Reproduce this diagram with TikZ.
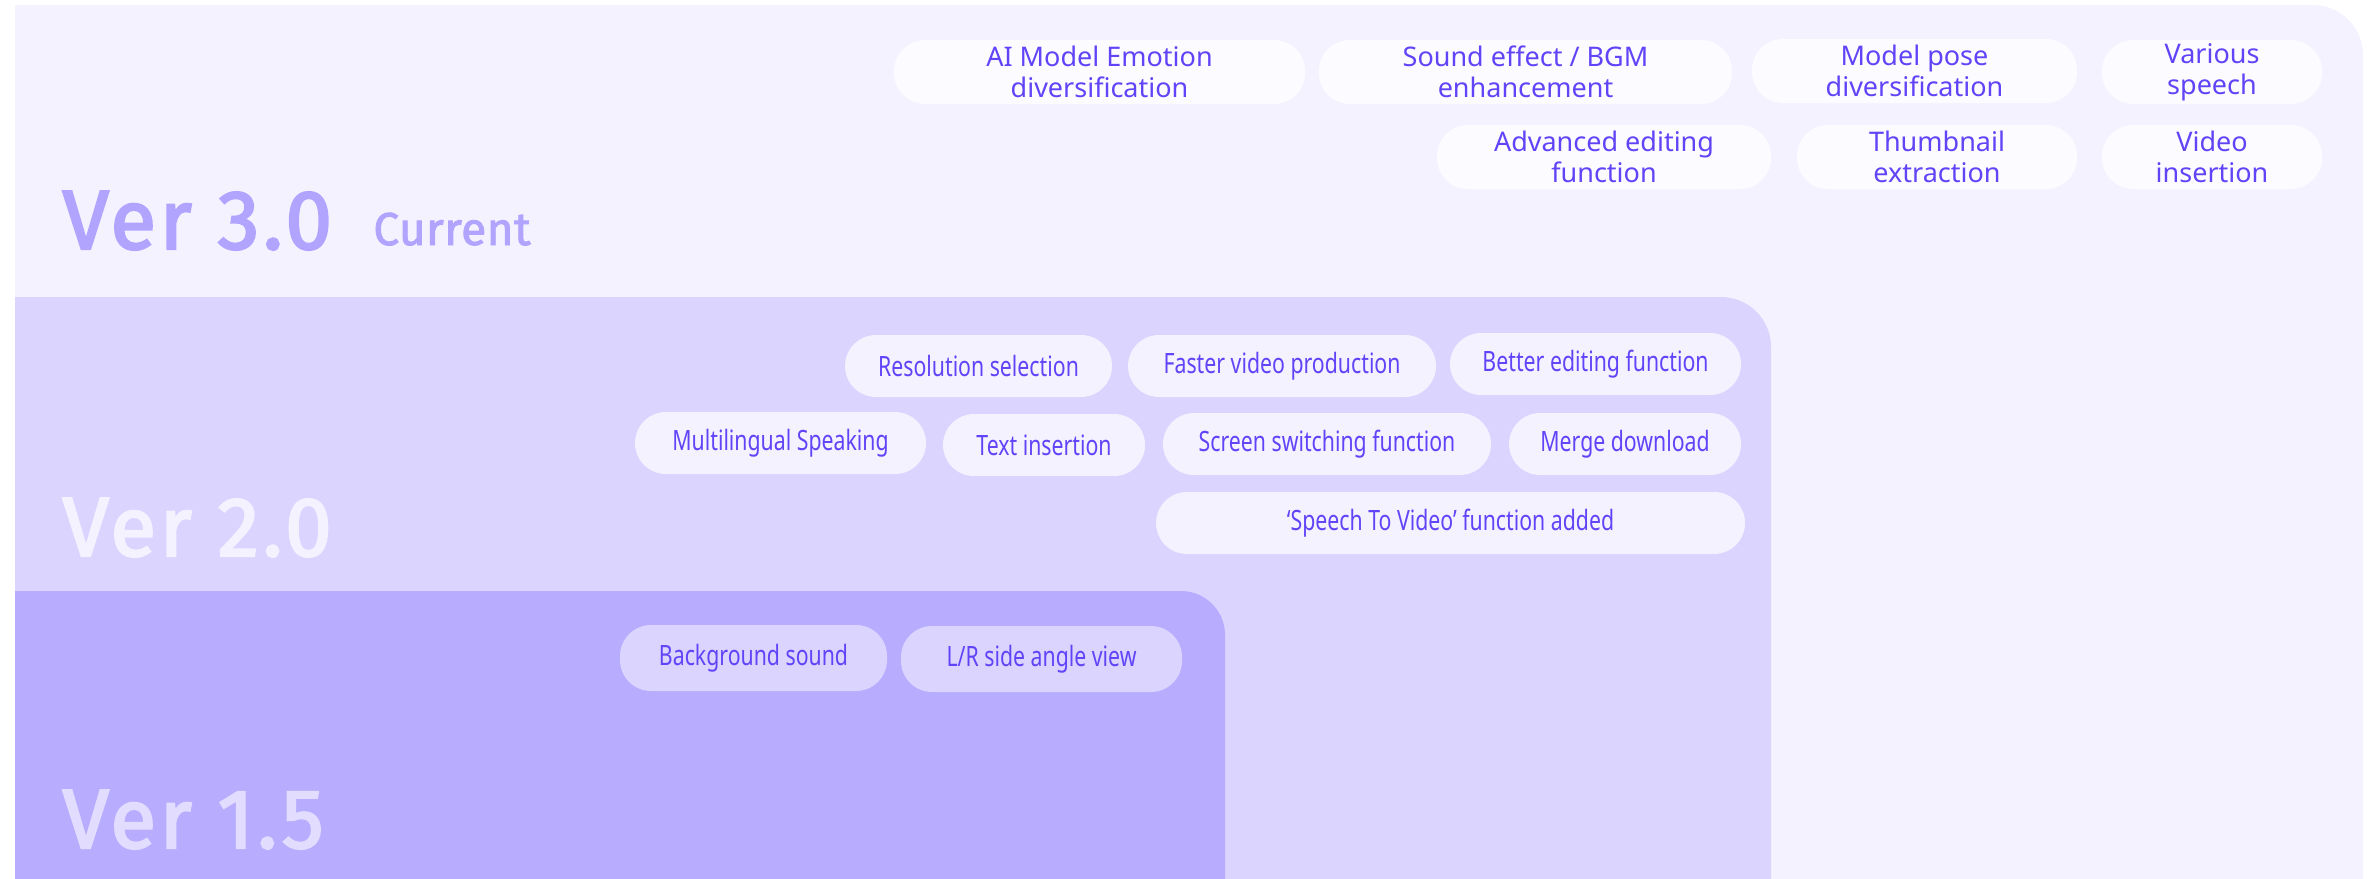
\documentclass[tikz,border=0pt]{standalone}
\usepackage{fontspec}
\setmainfont{Noto Sans}
\newfontfamily\verfont{Fira Sans}[LetterSpace=4, FakeBold=2.5]
\newfontfamily\curfont{Fira Sans}[LetterSpace=1, FakeBold=2]
\newfontfamily\tightfont{Noto Sans}[FakeStretch=0.76]
\usetikzlibrary{positioning}
\definecolor{verthree}{RGB}{244,242,255}
\definecolor{vertwo}{RGB}{218,212,254}
\definecolor{verone}{RGB}{183,172,254}
\definecolor{pillwhite}{RGB}{252,251,255}
\definecolor{pilltext}{RGB}{96,68,248}
\definecolor{labthree}{RGB}{176,164,255}
\definecolor{labone}{RGB}{226,221,255}
\tikzset{
  pill/.style     = {rounded corners=15.5pt, inner sep=0pt, text=pilltext, align=center},
  pillthree/.style = {pill, fill=pillwhite, minimum height=32pt,
                      font=\fontsize{13.5}{15.5}\selectfont},
  pilltwo/.style  = {pill, fill=verthree, minimum height=31pt,
                     font=\tightfont\fontsize{14}{16}\selectfont},
  pillone/.style  = {pill, fill=vertwo, minimum height=33pt,
                     font=\tightfont\fontsize{14}{16}\selectfont},
  verlabel/.style = {anchor=base west, inner sep=0pt,
                     font=\verfont\fontsize{42}{42}\selectfont}
}

\begin{document}
\begin{tikzpicture}[x=0.5pt,y=-0.5pt]
\useasboundingbox (0,0) rectangle (2369,878);

% -------------------- Panels --------------------
\begin{scope}
  \clip (15,0) rectangle (2369,878);
  \fill[verthree, rounded corners=25pt] (-100,5) rectangle (2363,1000);
  \fill[vertwo,   rounded corners=25pt] (-100,297) rectangle (1771,1000);
  \fill[verone,   rounded corners=22pt] (-100,591) rectangle (1225,1000);
\end{scope}

% version titles
\node[verlabel, text=labthree] (vthree) at (62,249) {Ver 3.0};
\node[anchor=base west, inner sep=0pt, text=labthree,
      font=\curfont\fontsize{23}{23}\selectfont] (cur) at (373,245) {Current};
\node[verlabel, text=verthree] (vtwo) at (62,556) {Ver 2.0};
\node[verlabel, text=labone] (vone) at (62,848) {Ver 1.5};

% -------------------- Ver 3.0 features --------------------
\foreach \cx/\cy/\w/\nm/\txt in {1099.5/72/411/emo/{AI Model Emotion\\diversification},
                                 1525.5/72/413/snd/{Sound effect / BGM\\enhancement},
                                 1914.5/71/325/pose/{Model pose\\diversification},
                                 2212/72/220/speech/{Various\\speech},
                                 1604/157/334/adv/{Advanced editing\\function},
                                 1937/157/280/thumb/{Thumbnail\\extraction},
                                 2212/157/220/vins/{Video\\insertion}}{
  \node[pillthree, minimum width=\w*0.5pt] (\nm) at (\cx,\cy) {\txt};
}

% -------------------- Ver 2.0 features --------------------
\foreach \cx/\cy/\w/\nm/\txt in {978.5/366/267/res/{Resolution selection},
                                 1282/366/308/fast/{Faster video production},
                                 1595.5/364/291/better/{Better editing function},
                                 780.5/443/291/multi/{Multilingual Speaking},
                                 1044/445/202/tins/{Text insertion},
                                 1327/444/328/screen/{Screen switching function},
                                 1625/444/232/merge/{Merge download},
                                 1450.5/523/589/stv/{‘Speech To Video’ function added}}{
  \node[pilltwo, minimum width=\w*0.5pt] (\nm) at (\cx,\cy) {\txt};
}

% -------------------- Ver 1.5 features --------------------
\foreach \cx/\cy/\w/\nm/\txt in {753.5/658/267/bgs/{Background sound},
                                 1041.5/659/281/lrside/{L/R side angle view}}{
  \node[pillone, minimum width=\w*0.5pt] (\nm) at (\cx,\cy) {\txt};
}

\end{tikzpicture}
\end{document}
